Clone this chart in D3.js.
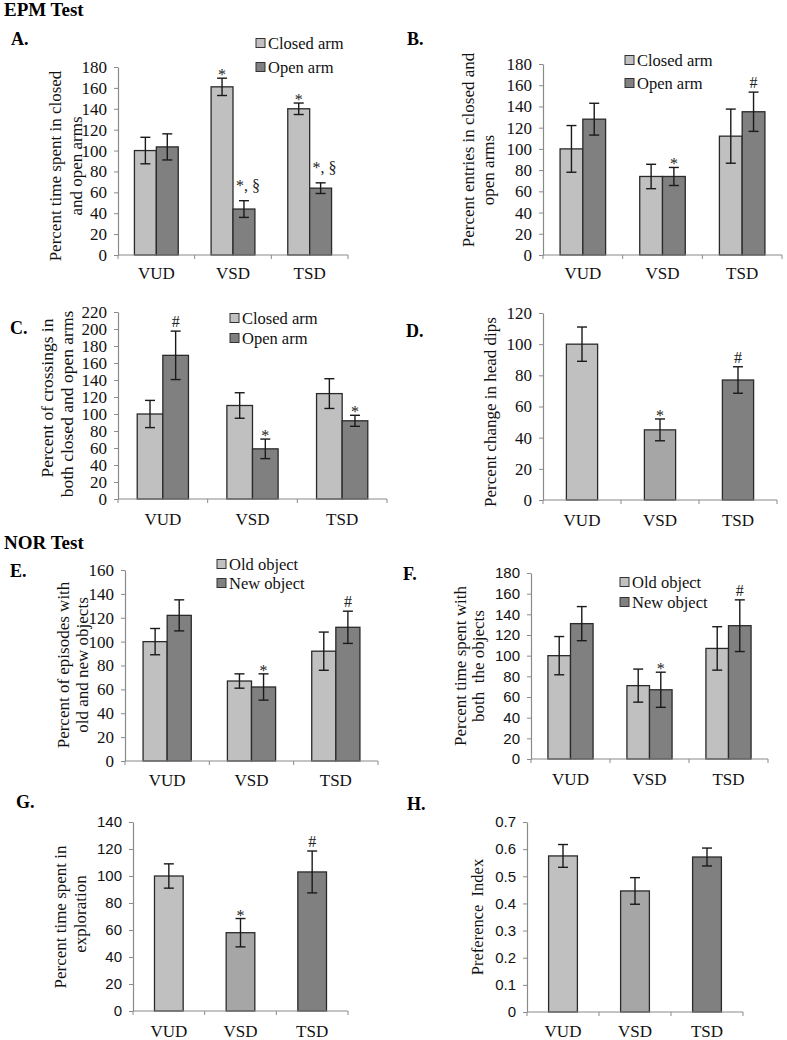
<!DOCTYPE html>
<html><head><meta charset="utf-8">
<script src="https://cdn.jsdelivr.net/npm/d3@7"></script>
<style>body{margin:0;background:#fff}svg{display:block}</style>
</head><body>
<svg id="chart" width="787" height="1040"></svg>
<script>
// ---------- DATA ----------
const categories = ["VUD", "VSD", "TSD"];
const armNames = ["Closed arm", "Open arm"];
const objectNames = ["Old object", "New object"];

// A. Percent time spent in closed and open arms
const aClosed = [100, 161, 140];
const aClosedErr = [12.7, 8.3, 5.5];
const aClosedMarks = ["", "*", "*"];
const aOpen = [103.5, 44, 64];
const aOpenErr = [12.5, 8, 5.1];
const aOpenMarks = ["", "*, §", "*, §"];
const aTicks = [0, 20, 40, 60, 80, 100, 120, 140, 160, 180];

// B. Percent entries in closed and open arms
const bClosed = [100, 74, 112];
const bClosedErr = [22, 11.5, 25.5];
const bClosedMarks = ["", "", ""];
const bOpen = [128, 74, 135];
const bOpenErr = [15, 8.5, 18.5];
const bOpenMarks = ["", "*", "#"];
const bTicks = [0, 20, 40, 60, 80, 100, 120, 140, 160, 180];

// C. Percent of crossings
const cClosed = [100, 110, 124];
const cClosedErr = [16, 15, 17.5];
const cClosedMarks = ["", "", ""];
const cOpen = [169, 59, 92];
const cOpenErr = [28.5, 11.5, 6.5];
const cOpenMarks = ["#", "*", "*"];
const cTicks = [0, 20, 40, 60, 80, 100, 120, 140, 160, 180, 200, 220];

// D. Percent change in head dips
const dValues = [100, 45, 77];
const dErr = [11, 7, 8.5];
const dMarks = ["", "*", "#"];
const dTicks = [0, 20, 40, 60, 80, 100, 120];

// E. Percent of episodes with old and new objects
const eOld = [100, 67, 92];
const eOldErr = [11, 6, 16];
const eOldMarks = ["", "", ""];
const eNew = [122, 62, 112];
const eNewErr = [13, 11, 13.5];
const eNewMarks = ["", "*", "#"];
const eTicks = [0, 20, 40, 60, 80, 100, 120, 140, 160];

// F. Percent time spent with both the objects
const fOld = [100, 71, 107];
const fOldErr = [18.5, 16, 21];
const fOldMarks = ["", "", ""];
const fNew = [131, 67, 129];
const fNewErr = [16.5, 17, 25];
const fNewMarks = ["", "*", "#"];
const fTicks = [0, 20, 40, 60, 80, 100, 120, 140, 160, 180];

// G. Percent time spent in exploration
const gValues = [100, 58, 103];
const gErr = [9, 10.5, 15.5];
const gMarks = ["", "*", "#"];
const gTicks = [0, 20, 40, 60, 80, 100, 120, 140];

// H. Preference Index
const hValues = [0.575, 0.446, 0.571];
const hErr = [0.042, 0.049, 0.033];
const hMarks = ["", "", ""];
const hTicks = [0, 0.1, 0.2, 0.3, 0.4, 0.5, 0.6, 0.7];
const hTickLabels = ["0", "0.1", "0.2", "0.3", "0.4", "0.5", "0.6", "0.7"];

// ---------- STYLE ----------
const LIGHT = "#c0c0c0", MID = "#a6a6a6", DARK = "#808080";
const SERIF = "'Liberation Serif','Times New Roman',serif";
const SANS = "'Liberation Sans',Arial,sans-serif";
const AXIS = "#8a8a8a";

const svg = d3.select("#chart");

// section titles
svg.append("text").attr("x", 4).attr("y", 16).text("EPM Test")
  .style("font-family", SERIF).style("font-weight", "bold").style("font-size", "19px");
svg.append("text").attr("x", 4).attr("y", 549).text("NOR Test")
  .style("font-family", SERIF).style("font-weight", "bold").style("font-size", "19px");

function panel(cfg) {
  const g = svg.append("g");
  const x = d3.scaleBand().domain(categories).range([cfg.x0, cfg.x1]).padding(0);
  const y = d3.scaleLinear().domain([0, cfg.max]).range([cfg.y0, cfg.yTop]);
  const inner = d3.scaleBand().domain(d3.range(cfg.series.length))
    .range([0, x.bandwidth()]).paddingInner(0).paddingOuter(0.75);

  // y axis
  const labels = cfg.tickLabels;
  const ya = d3.axisLeft(y).tickValues(cfg.ticks).tickSize(4).tickSizeOuter(0).tickPadding(7)
    .tickFormat((d, i) => labels ? labels[i] : d3.format("d")(d));
  const yg = g.append("g").attr("transform", `translate(${cfg.x0},0)`).call(ya);
  yg.select(".domain").attr("stroke", AXIS).attr("stroke-width", 1.2);
  yg.selectAll(".tick line").attr("stroke", AXIS);
  yg.selectAll(".tick text").style("font-family", cfg.tickFont).style("font-size", cfg.tickSize + "px").attr("fill", "#111");

  // bars
  cfg.series.forEach((s, si) => {
    g.selectAll(null).data(categories).join("rect")
      .attr("x", c => x(c) + inner(si))
      .attr("y", (c, i) => y(s.values[i]))
      .attr("width", inner.bandwidth())
      .attr("height", (c, i) => y(0) - y(s.values[i]))
      .attr("fill", (c, i) => s.colors ? s.colors[i] : s.color)
      .attr("stroke", "#2a2a2a").attr("stroke-width", 1.3);
  });

  // x axis
  const xa = d3.axisBottom(x).tickSize(0).tickPadding(cfg.xPad);
  const xg = g.append("g").attr("transform", `translate(0,${cfg.y0})`).call(xa);
  xg.select(".domain").remove();
  xg.selectAll(".tick text").style("font-family", SERIF).style("font-size", "17px").attr("fill", "#111");
  g.append("line").attr("x1", cfg.x0).attr("x2", cfg.x1).attr("y1", y(0)).attr("y2", y(0))
    .attr("stroke", AXIS).attr("stroke-width", 1.2);
  const bounds = categories.map(c => x(c)).concat([cfg.x1]);
  g.selectAll(null).data(bounds).join("line")
    .attr("x1", d => d).attr("x2", d => d).attr("y1", y(0)).attr("y2", y(0) + 4)
    .attr("stroke", AXIS);

  // error bars + marks
  cfg.series.forEach((s, si) => {
    const cx = c => x(c) + inner(si) + inner.bandwidth() / 2;
    const eb = g.selectAll(null).data(categories).join("g");
    eb.append("line").attr("x1", cx).attr("x2", cx)
      .attr("y1", (c, i) => y(s.values[i] + s.errs[i])).attr("y2", (c, i) => y(s.values[i] - s.errs[i]));
    eb.append("line").attr("x1", c => cx(c) - 5).attr("x2", c => cx(c) + 5)
      .attr("y1", (c, i) => y(s.values[i] + s.errs[i])).attr("y2", (c, i) => y(s.values[i] + s.errs[i]));
    eb.append("line").attr("x1", c => cx(c) - 5).attr("x2", c => cx(c) + 5)
      .attr("y1", (c, i) => y(s.values[i] - s.errs[i])).attr("y2", (c, i) => y(s.values[i] - s.errs[i]));
    eb.selectAll("line").attr("stroke", "#1a1a1a").attr("stroke-width", 1.4);
    g.selectAll(null).data(categories).join("text")
      .attr("x", c => cx(c) + ((s.marks[categories.indexOf(c)] || "").length > 1 ? 4 : 0))
      .attr("y", (c, i) => {
        const m = s.marks[i], top = y(s.values[i] + s.errs[i]);
        if (m.includes("§")) return top - 10;
        if (m.includes("#")) return top - 4;
        return top + 2;
      })
      .attr("text-anchor", "middle")
      .text((c, i) => s.marks[i])
      .style("font-family", SERIF).style("font-size", "16px").attr("fill", "#222");
  });

  // legend
  if (cfg.legend) {
    cfg.legend.names.forEach((n, i) => {
      const cy = cfg.legend.rows[i];
      g.append("rect").attr("x", cfg.legend.x).attr("y", cy - 4.5).attr("width", 9).attr("height", 9)
        .attr("fill", cfg.series[i].color).attr("stroke", "#333").attr("stroke-width", 1);
      g.append("text").attr("x", cfg.legend.x + 12).attr("y", cy).attr("dy", "0.35em").text(n)
        .style("font-family", SERIF).style("font-size", "16.5px").attr("fill", "#111");
    });
  }

  // y labels
  cfg.ylab.forEach(l => {
    g.append("text").attr("transform", `translate(${l.x},${l.cy}) rotate(-90)`)
      .attr("text-anchor", "middle").attr("dy", "0.35em").text(l.t)
      .style("font-family", SERIF).style("font-size", (cfg.ylabSize || 17) + "px")
      .style("white-space", "pre").attr("fill", "#111");
  });

  // panel letter
  svg.append("text").attr("x", cfg.letter[0]).attr("y", cfg.letter[1]).text(cfg.letter[2])
    .style("font-family", SERIF).style("font-weight", "bold").style("font-size", "18px");
}

panel({
  x0: 118, x1: 348, yTop: 67, y0: 255, max: 180, ticks: aTicks, tickFont: SERIF, tickSize: 17, xPad: 12,
  series: [
    {values: aClosed, errs: aClosedErr, marks: aClosedMarks, color: LIGHT},
    {values: aOpen, errs: aOpenErr, marks: aOpenMarks, color: DARK}],
  legend: {names: armNames, x: 256, rows: [43, 67]},
  ylab: [{t: "Percent time spent in closed", x: 55, cy: 166}, {t: "and open arms", x: 76, cy: 166}],
  letter: [11, 45, "A."]
});
panel({
  x0: 543, x1: 782, yTop: 64, y0: 255, max: 180, ticks: bTicks, tickFont: SERIF, tickSize: 17, xPad: 12,
  series: [
    {values: bClosed, errs: bClosedErr, marks: bClosedMarks, color: LIGHT},
    {values: bOpen, errs: bOpenErr, marks: bOpenMarks, color: DARK}],
  legend: {names: armNames, x: 625, rows: [60, 83]},
  ylab: [{t: "Percent entries in closed and", x: 468, cy: 150}, {t: "open arms", x: 488, cy: 170}],
  letter: [407, 45, "B."]
});
panel({
  x0: 118, x1: 387, yTop: 312, y0: 499, max: 220, ticks: cTicks, tickFont: SERIF, tickSize: 17, xPad: 14,
  series: [
    {values: cClosed, errs: cClosedErr, marks: cClosedMarks, color: LIGHT},
    {values: cOpen, errs: cOpenErr, marks: cOpenMarks, color: DARK}],
  legend: {names: armNames, x: 230, rows: [318, 338]},
  ylab: [{t: "Percent of crossings in", x: 47, cy: 398}, {t: "both closed and open arms", x: 67, cy: 404}],
  ylabSize: 17.5,
  letter: [10, 334, "C."]
});
panel({
  x0: 543, x1: 777, yTop: 313, y0: 500, max: 120, ticks: dTicks, tickFont: SERIF, tickSize: 17, xPad: 14,
  series: [{values: dValues, errs: dErr, marks: dMarks, color: LIGHT, colors: [LIGHT, MID, DARK]}],
  ylab: [{t: "Percent change in head dips", x: 490, cy: 412}],
  letter: [406, 337, "D."]
});
panel({
  x0: 125, x1: 378, yTop: 570, y0: 761, max: 160, ticks: eTicks, tickFont: SERIF, tickSize: 17, xPad: 13,
  series: [
    {values: eOld, errs: eOldErr, marks: eOldMarks, color: LIGHT},
    {values: eNew, errs: eNewErr, marks: eNewMarks, color: DARK}],
  legend: {names: objectNames, x: 217, rows: [564, 583]},
  ylab: [{t: "Percent of episodes with", x: 63, cy: 665}, {t: "old and new objects", x: 82, cy: 665}],
  letter: [10, 577, "E."]
});
panel({
  x0: 531, x1: 768, yTop: 573, y0: 759, max: 180, ticks: fTicks, tickFont: SANS, tickSize: 15, xPad: 14,
  series: [
    {values: fOld, errs: fOldErr, marks: fOldMarks, color: LIGHT},
    {values: fNew, errs: fNewErr, marks: fNewMarks, color: DARK}],
  legend: {names: objectNames, x: 620, rows: [582, 602]},
  ylab: [{t: "Percent time spent with", x: 460, cy: 666}, {t: "both  the objects", x: 478, cy: 666}],
  letter: [403, 580, "F."]
});
panel({
  x0: 133, x1: 348, yTop: 822, y0: 1011, max: 140, ticks: gTicks, tickFont: SANS, tickSize: 15, xPad: 14,
  series: [{values: gValues, errs: gErr, marks: gMarks, color: LIGHT, colors: [LIGHT, MID, DARK]}],
  ylab: [{t: "Percent time spent in", x: 60, cy: 917}, {t: "exploration", x: 80, cy: 914}],
  letter: [16, 808, "G."]
});
panel({
  x0: 527, x1: 743, yTop: 822, y0: 1012, max: 0.7, ticks: hTicks, tickLabels: hTickLabels, tickFont: SANS, tickSize: 15, xPad: 13,
  series: [{values: hValues, errs: hErr, marks: hMarks, color: LIGHT, colors: [LIGHT, MID, DARK]}],
  ylab: [{t: "Preference  Index", x: 477, cy: 917}],
  ylabSize: 16.5,
  letter: [407, 810, "H."]
});
</script>
</body></html>
